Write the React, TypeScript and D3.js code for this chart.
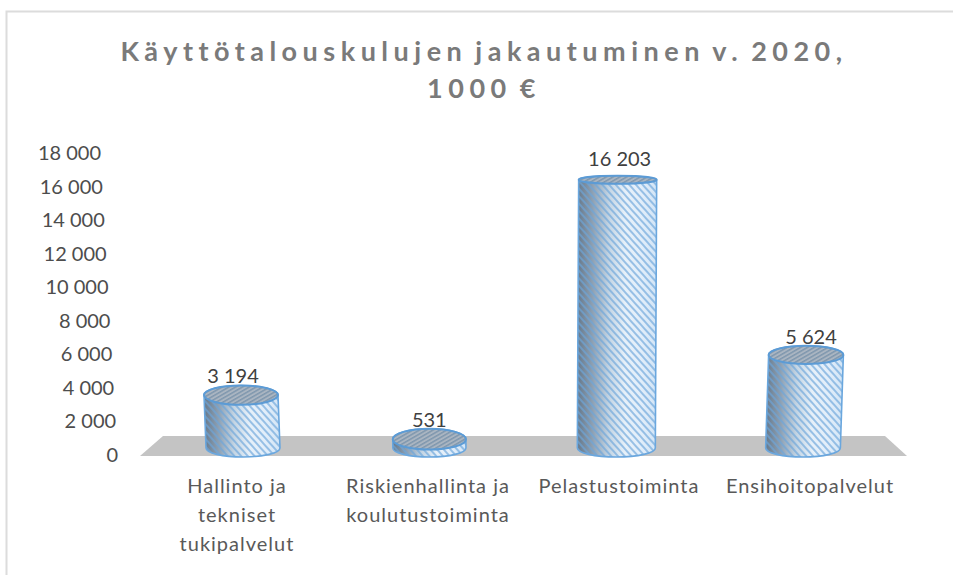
import React from "react";
import * as d3 from "d3";

const titleLines = ["Käyttötalouskulujen jakautuminen v. 2020,", "1000 €"];
const categories = ["Hallinto ja tekniset tukipalvelut", "Riskienhallinta ja koulutustoiminta", "Pelastustoiminta", "Ensihoitopalvelut"];
const categoryLines = [["Hallinto ja", "tekniset", "tukipalvelut"], ["Riskienhallinta ja", "koulutustoiminta"], ["Pelastustoiminta"], ["Ensihoitopalvelut"]];
const values = [3194, 531, 16203, 5624];
const tickValues = [0, 2000, 4000, 6000, 8000, 10000, 12000, 14000, 16000, 18000];
const valueLabelDx = [-8, 0, 2, 5];
const valueLabelGap = [2, 2, 10, 1.5];

const font = "Lato, 'Open Sans', sans-serif";
const fmt = d3.formatLocale({ decimal: ",", thousands: " ", grouping: [3], currency: ["", ""] }).format(",d");

export default function App() {
  const x = d3.scalePoint<string>().domain(categories).range([241, 806]);
  const labelX = d3.scaleLinear().domain([241, 806]).range([237, 810]);
  const yTick = d3.scaleLinear().domain([0, 18000]).range([455, 153]);
  const tickRight = d3.scaleLinear().domain([0, 18000]).range([118, 101]);
  const y = d3.scaleLinear().domain([0, 18000]).range([448, 150]);
  const ryTop = d3.scaleLinear().domain([0, 6000, 16203]).range([10.5, 9, 4]);
  const halfW = d3.scaleLinear().domain([0, 16203]).range([36.5, 39]);
  const lean = d3.scaleLinear().domain([241, 806]).range([2, -3]);
  const stops = ["#66788a", "#8fa2b5", "#c4d5e4", "#e6f0f9", "#e2eefa", "#d3e5f6"];

  return (
    <svg width={953} height={575} style={{ position: "absolute", left: 0, top: 0, background: "#fff" }} fontFamily={font}>
      <defs>
        <linearGradient id="side" x1="0" x2="1" y1="0" y2="0">
          {stops.map((c, i) => <stop key={i} offset={i / (stops.length - 1)} stopColor={c} />)}
        </linearGradient>
        <pattern id="hatch" width="5" height="5" patternUnits="userSpaceOnUse" patternTransform="rotate(48)">
          <rect width="5" height="2" fill="#6ea6da" opacity="0.65" />
        </pattern>
        <pattern id="hatchTop" width="3.4" height="3.4" patternUnits="userSpaceOnUse" patternTransform="rotate(-30)">
          <rect width="3.4" height="3.4" fill="#aab5c1" />
          <rect width="3.4" height="1.5" fill="#6d8aa6" opacity="0.7" />
        </pattern>
        <filter id="soft" x="-5%" y="-5%" width="110%" height="110%">
          <feGaussianBlur stdDeviation="0.6" />
        </filter>
      </defs>

      <path d="M6.5,575V11.5H953" fill="none" stroke="#dcdcdc" strokeWidth={2} />

      {titleLines.map((t, i) => (
        <text key={i} x={484} y={61 + i * 37} textAnchor="middle" fontSize={27} fontWeight={700} letterSpacing={5.5} wordSpacing={-4} fill="#7a7a7a">{t}</text>
      ))}

      {tickValues.map((t) => (
        <text key={t} x={tickRight(t)} y={yTick(t)} dy="0.35em" textAnchor="end" fontSize={20} fill="#4d4d4d">{fmt(t)}</text>
      ))}

      <polygon points="140,456 163,436 885,436 907,456" fill="#c4c4c4" />

      {categories.map((c, i) => {
        const cx = x(c)!;
        const v = values[i];
        const w = halfW(v);
        const yt = y(v);
        const yb = y(0);
        const ry = ryTop(v);
        const bx = cx + lean(cx) * Math.min(1, (yb - yt) / 50);
        const rb = 9;
        const side = `M${cx - w},${yt} L${bx - w},${yb} A${w},${rb} 0 0 0 ${bx + w},${yb} L${cx + w},${yt} A${w},${ry} 0 0 0 ${cx - w},${yt} Z`;
        return (
          <g key={c}>
            <g filter="url(#soft)">
              <path d={side} fill="url(#side)" />
              <path d={side} fill="url(#hatch)" stroke="#6ba7de" strokeWidth={1.6} />
              <ellipse cx={cx} cy={yt} rx={w} ry={ry} fill="url(#hatchTop)" stroke="#5b9bd5" strokeWidth={2} />
            </g>
            <text x={cx + valueLabelDx[i]} y={yt - ry - valueLabelGap[i]} textAnchor="middle" fontSize={20} fill="#404040">{fmt(v)}</text>
          </g>
        );
      })}

      {categories.map((c, i) => (
        <text key={c} textAnchor="middle" fontSize={20} letterSpacing={1} fill="#595959">
          {categoryLines[i].map((l, j) => (
            <tspan key={j} x={labelX(x(c)!)} y={493 + j * 29}>{l}</tspan>
          ))}
        </text>
      ))}
    </svg>
  );
}
